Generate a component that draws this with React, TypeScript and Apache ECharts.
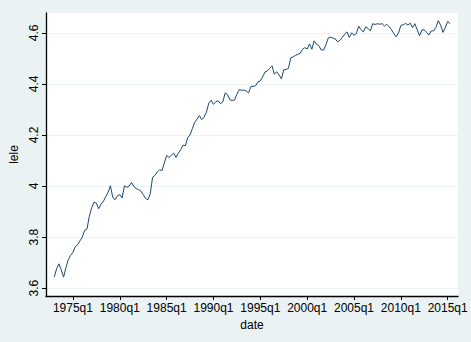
import React, { useEffect, useRef } from "react";
import * as echarts from "echarts";

// Quarterly series, Stata %tq index (0 = 1960q1). First observation 1973q1 = 52.
const startQuarter = 52;
const lele: number[] = [
  3.643, 3.675, 3.695, 3.672, 3.643, 3.680, 3.711, 3.728, // 1973q1-1974q4
  3.740, 3.762, 3.770, 3.785, 3.800, 3.826, 3.832, 3.881, // 1975-1976
  3.915, 3.937, 3.933, 3.911, 3.929, 3.940, 3.958, 3.975, // 1977-1978
  4.001, 3.955, 3.946, 3.962, 3.966, 3.953, 4.001, 3.995, // 1979-1980
  4.000, 4.014, 3.998, 3.990, 3.986, 3.980, 3.966, 3.952, // 1981-1982
  3.946, 3.969, 4.034, 4.042, 4.055, 4.064, 4.060, 4.090, // 1983-1984
  4.120, 4.112, 4.120, 4.129, 4.112, 4.129, 4.142, 4.160, // 1985-1986
  4.158, 4.190, 4.200, 4.225, 4.250, 4.262, 4.276, 4.260, // 1987-1988
  4.270, 4.290, 4.325, 4.336, 4.320, 4.330, 4.334, 4.322, // 1989-1990
  4.330, 4.365, 4.358, 4.338, 4.335, 4.337, 4.360, 4.378, // 1991-1992
  4.375, 4.376, 4.372, 4.365, 4.390, 4.391, 4.393, 4.408, // 1993-1994
  4.412, 4.428, 4.447, 4.451, 4.461, 4.471, 4.438, 4.448, // 1995-1996
  4.435, 4.420, 4.455, 4.457, 4.461, 4.502, 4.506, 4.512, // 1997-1998
  4.516, 4.520, 4.536, 4.542, 4.537, 4.557, 4.536, 4.569, // 1999-2000
  4.555, 4.550, 4.533, 4.533, 4.553, 4.580, 4.583, 4.580, // 2001-2002
  4.576, 4.565, 4.571, 4.582, 4.595, 4.604, 4.582, 4.600, // 2003-2004
  4.591, 4.597, 4.626, 4.613, 4.604, 4.624, 4.617, 4.608, // 2005-2006
  4.636, 4.633, 4.636, 4.634, 4.636, 4.627, 4.634, 4.624, // 2007-2008
  4.613, 4.597, 4.585, 4.600, 4.629, 4.632, 4.637, 4.631, // 2009-2010
  4.638, 4.621, 4.636, 4.612, 4.589, 4.612, 4.612, 4.602, // 2011-2012
  4.592, 4.608, 4.608, 4.622, 4.648, 4.630, 4.602, 4.622, // 2013-2014
  4.645, 4.636, // 2015q1-2015q2
];

const xTicks = [60, 80, 100, 120, 140, 160, 180, 200, 220]; // 1975q1 ... 2015q1
const yTicks = [3.6, 3.8, 4.0, 4.2, 4.4, 4.6];

const fmtQuarter = (q: number) => {
  const y = 1960 + Math.floor(q / 4);
  const qq = (q % 4) + 1;
  return `${y}q${qq}`;
};

export default function App() {
  const ref = useRef<HTMLDivElement>(null);
  useEffect(() => {
    if (!ref.current) return;
    const chart = echarts.init(ref.current, undefined, { renderer: "svg" });
    const data = lele.map((v, i) => [startQuarter + i, v]);
    const font = "Liberation Sans, Arial, sans-serif";
    chart.setOption({
      animation: false,
      backgroundColor: "#EAF2F3",
      textStyle: { fontFamily: font },
      grid: {
        left: 46,
        right: 13,
        top: 13,
        bottom: 46,
        show: true,
        backgroundColor: "#FFFFFF",
        borderWidth: 0,
      },
      xAxis: {
        type: "value",
        min: 48.5,
        max: 224.4,
        name: "date",
        nameLocation: "middle",
        nameGap: 18,
        nameTextStyle: { color: "#000", fontSize: 12, fontFamily: font },
        axisLine: { show: true, onZero: false, lineStyle: { color: "#000", width: 1.3 } },
        axisTick: { show: true, length: 4, customValues: xTicks, lineStyle: { color: "#000" } },
        axisLabel: {
          customValues: xTicks,
          formatter: (v: number) => fmtQuarter(Math.round(v)),
          color: "#000",
          fontSize: 12,
          fontFamily: font,
          margin: 6,
          showMinLabel: true,
          showMaxLabel: true,
        },
        splitLine: { show: false },
      },
      yAxis: {
        type: "value",
        min: 3.569,
        max: 4.678,
        name: "lele",
        nameLocation: "middle",
        nameGap: 26,
        nameRotate: 90,
        nameTextStyle: { color: "#000", fontSize: 12, fontFamily: font },
        axisLine: { show: true, onZero: false, lineStyle: { color: "#000", width: 1.3 } },
        axisTick: { show: true, length: 4, customValues: yTicks, lineStyle: { color: "#000" } },
        axisLabel: {
          customValues: yTicks,
          rotate: 90,
          formatter: (v: number) => String(Math.round(v * 10) / 10),
          color: "#000",
          fontSize: 12,
          fontFamily: font,
          margin: 6,
        },
        splitLine: { show: true, lineStyle: { color: "#EAF2F3", width: 1 } },
      },
      series: [
        {
          type: "line",
          data,
          showSymbol: false,
          symbol: "none",
          lineStyle: { color: "#1A476F", width: 1 },
        },
      ],
    });
    return () => chart.dispose();
  }, []);
  return <div ref={ref} style={{ width: 471, height: 342, position: "absolute", left: 0, top: 0 }} />;
}
